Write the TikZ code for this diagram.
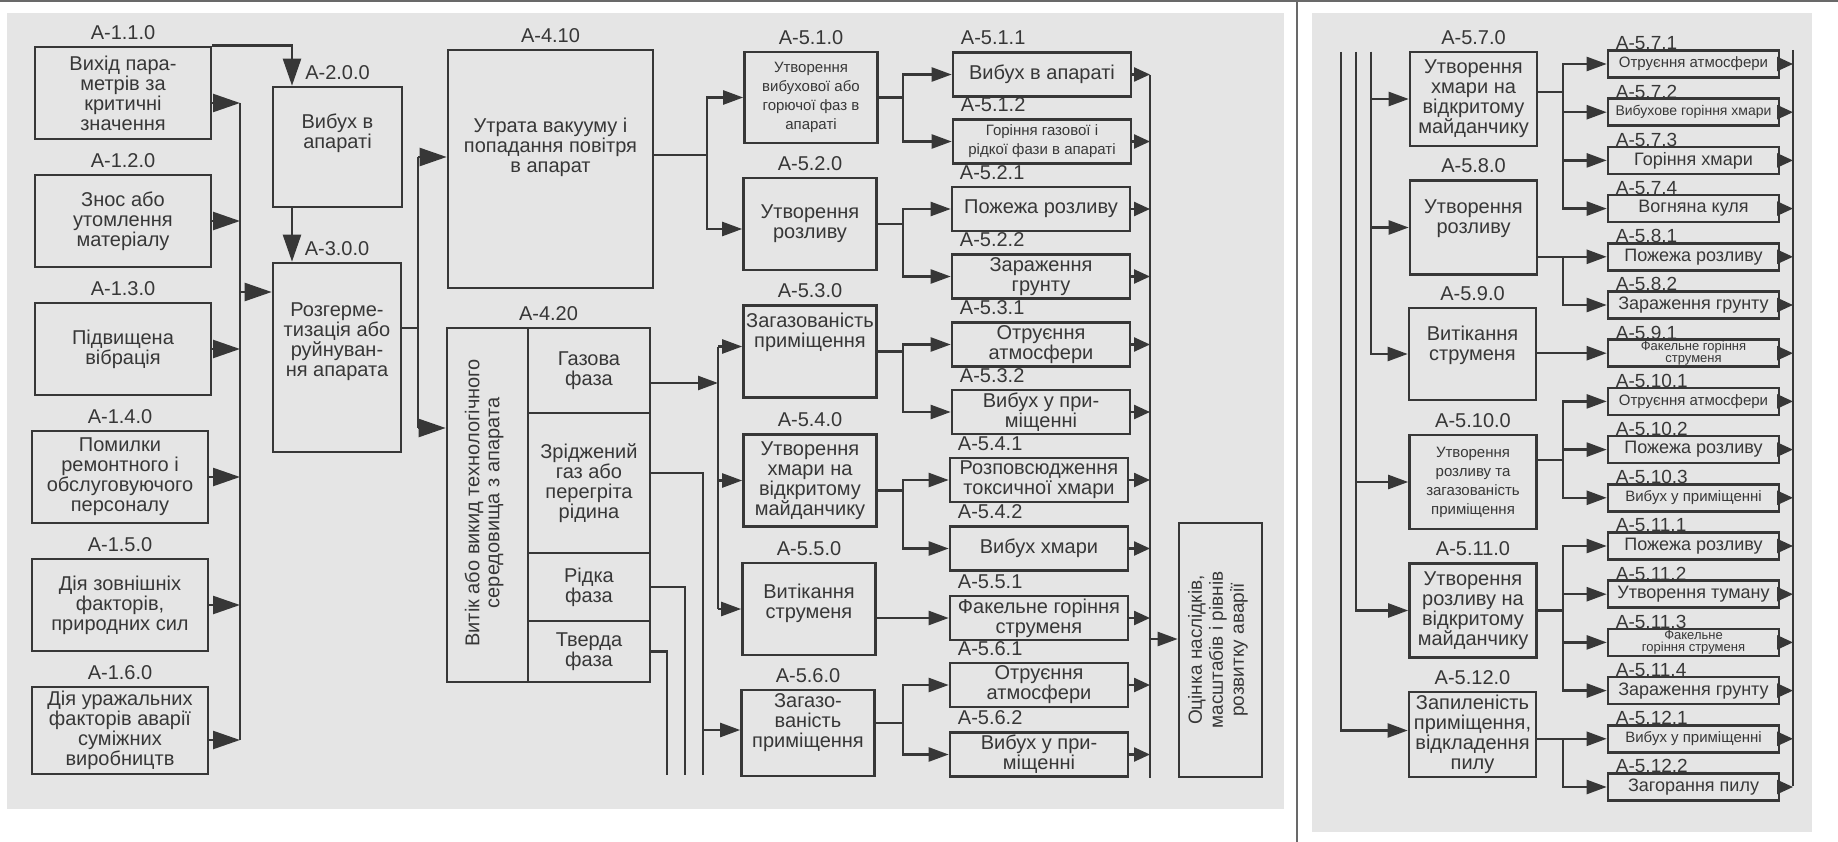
\documentclass[tikz,border=0pt]{standalone}
\usepackage{fontspec}
\setmainfont{Liberation Sans}
\usepackage{xcolor}
\usepackage{tikz}
\usetikzlibrary{arrows.meta, positioning, calc}
\definecolor{ink}{RGB}{55,55,55}
\definecolor{paper}{RGB}{229,229,229}
\definecolor{frameline}{RGB}{105,105,105}

\begin{document}
\begin{tikzpicture}[
    x=1pt, y=-1pt,
    box/.style={rectangle, draw=ink, line width=2.6pt, inner sep=0pt, align=center,
                text=ink, font=\fontsize{20}{20}\selectfont},
    cause/.style={box, minimum width=176pt, minimum height=92pt},
    stage/.style={box, minimum width=133pt, minimum height=92pt},
    effect/.style={box, minimum width=178pt, minimum height=44pt},
    rstage/.style={box, minimum width=127pt, minimum height=94pt},
    reffect/.style={box, minimum width=171pt, minimum height=27pt, font=\fontsize{18}{18}\selectfont},
    cell/.style={box, minimum width=122pt},
    txt/.style={align=center, text=ink, inner sep=0pt, font=\fontsize{20}{20}\selectfont},
    small/.style={font=\fontsize{15}{19}\selectfont},
    tiny/.style={font=\fontsize{13}{12}\selectfont},
    tag/.style={text=ink, inner sep=0pt, yshift=6pt, font=\fontsize{20}{20}\selectfont},
    ltag/.style={tag, anchor=south west, xshift=9pt},
    rtag/.style={text=ink, inner sep=0pt, anchor=south west, xshift=9pt, yshift=-1pt, font=\fontsize{19}{19}\selectfont},
    link/.style={draw=ink, line width=2.4pt},
    bigarrow/.style={link, -{Triangle[length=27pt, width=18pt]}},
    arrow/.style={link, -{Triangle[length=20pt, width=14pt]}},
    endtip/.style={link, -{Triangle[length=16pt, width=14pt]}}
]
\useasboundingbox (0,0) rectangle (1838,842);
\fill[white] (0,0) rectangle (1838,842);
\fill[paper] (7,13) rectangle (1284,809);
\fill[paper] (1312,13) rectangle (1812,832);
\draw[frameline, line width=1.5pt] (0,1) -- (1838,1);
\draw[frameline, line width=1.5pt] (1297,0) -- (1297,842);

\node[cause, label={[tag]above:А-1.1.0}] (c11) at (123,93) {Вихід пара-\\метрів за\\критичні\\значення};
\node[cause, label={[tag]above:А-1.2.0}] (c12) at (123,221) {Знос або\\утомлення\\матеріалу};
\node[cause, label={[tag]above:А-1.3.0}] (c13) at (123,349) {Підвищена\\вібрація};
\node[cause, label={[tag]above:А-1.4.0}] (c14) at (120,477) {Помилки\\ремонтного і\\обслуговуючого\\персоналу};
\node[cause, label={[tag]above:А-1.5.0}] (c15) at (120,605) {Дія зовнішніх\\факторів,\\природних сил};
\node[cause, minimum height=87pt, label={[tag]above:А-1.6.0}] (c16) at (120,730.5) {Дія уражальних\\факторів аварії\\суміжних\\виробництв};

\node[box, minimum width=129pt, minimum height=120pt, label={[tag]above:А-2.0.0}] (a20) at (337.5,147) {};
\node[txt] (a20t) at ([yshift=14pt]a20.center) {Вибух в\\апараті};
\node[box, minimum width=128pt, minimum height=189pt, label={[tag]above:А-3.0.0}] (a30) at (337,357.5) {};
\node[txt] (a30t) at ([yshift=16pt]a30.center) {Розгерме-\\тизація або\\руйнуван-\\ня апарата};

\node[box, minimum width=205pt, minimum height=238pt, label={[tag]above:А-4.10}] (a41) at (550.5,169) {};
\node[txt] (a41t) at ([yshift=22pt]a41.center) {Утрата вакууму і\\попадання повітря\\в апарат};
\node[box, minimum width=203pt, minimum height=354pt, label={[tag]above:А-4.20}] (a42) at (548.5,505) {};
\node[txt, rotate=90] (a42t) at (484,503) {Витік або викид технологічного\\середовища з апарата};
\node[cell, minimum height=85pt] (gas) at (589,370.5) {Газова\\фаза};
\node[cell, minimum height=140pt] (lgas) at (589,483) {Зріджений\\газ або\\перегріта\\рідина};
\node[cell, minimum height=68pt] (liq) at (589,587) {Рідка\\фаза};
\node[cell, minimum height=61pt] (sol) at (589,651.5) {Тверда\\фаза};

\node[stage, small, minimum height=91pt, label={[tag]above:А-5.1.0}] (st51) at (811,97.5) {Утворення\\вибухової або\\горючої фаз в\\апараті};
\node[stage, label={[tag]above:А-5.2.0}] (st52) at (810,224) {Утворення\\розливу};
\node[stage, label={[tag]above:А-5.3.0}] (st53) at (810,351.5) {};
\node[txt] (st53t) at ([yshift=19pt]st53.center) {Загазованість\\приміщення};
\node[stage, label={[tag]above:А-5.4.0}] (st54) at (810,480.5) {Утворення\\хмари на\\відкритому\\майданчику};
\node[stage, label={[tag]above:А-5.5.0}] (st55) at (809,609) {};
\node[txt] (st55t) at ([yshift=6pt]st55.center) {Витікання\\струменя};
\node[stage, minimum height=86pt, label={[tag]above:А-5.6.0}] (st56) at (808,733) {};
\node[txt] (st56t) at ([yshift=10pt]st56.center) {Загазо-\\ваність\\приміщення};

\node[effect, label={[ltag]north west:А-5.1.1}] (ef511) at (1042,74.5) {Вибух в апараті};
\node[effect, small, label={[ltag]north west:А-5.1.2}] (ef512) at (1042,141.5) {Горіння газової і\\рідкої фази в апараті};
\node[effect, label={[ltag]north west:А-5.2.1}] (ef521) at (1041,209) {Пожежа розливу};
\node[effect, label={[ltag]north west:А-5.2.2}] (ef522) at (1041,276.5) {Зараження\\грунту};
\node[effect, label={[ltag]north west:А-5.3.1}] (ef531) at (1041,344.5) {Отруєння\\атмосфери};
\node[effect, label={[ltag]north west:А-5.3.2}] (ef532) at (1041,412) {Вибух у при-\\міщенні};
\node[effect, label={[ltag]north west:А-5.4.1}] (ef541) at (1039,480) {Розповсюдження\\токсичної хмари};
\node[effect, label={[ltag]north west:А-5.4.2}] (ef542) at (1039,548.5) {Вибух хмари};
\node[effect, label={[ltag]north west:А-5.5.1}] (ef551) at (1039,618) {Факельне горіння\\струменя};
\node[effect, label={[ltag]north west:А-5.6.1}] (ef561) at (1039,685) {Отруєння\\атмосфери};
\node[effect, label={[ltag]north west:А-5.6.2}] (ef562) at (1039,754.5) {Вибух у при-\\міщенні};

\node[box, minimum width=83pt, minimum height=254pt] (fin) at (1220.5,650) {};
\node[txt, rotate=90, font=\fontsize{19}{21}\selectfont] (fint) at (1218,650) {Оцінка наслідків,\\масштабів і рівнів\\розвитку аварії};

\node[rstage, label={[tag]above:А-5.7.0}] (st57) at (1473.5,99) {Утворення\\хмари на\\відкритому\\майданчику};
\node[rstage, label={[tag]above:А-5.8.0}] (st58) at (1473.5,227.5) {};
\node[txt] (st58t) at ([yshift=9pt]st58.center) {Утворення\\розливу};
\node[rstage, minimum height=92pt, label={[tag]above:А-5.9.0}] (st59) at (1472.5,354) {};
\node[txt] (st59t) at ([yshift=9pt]st59.center) {Витікання\\струменя};
\node[rstage, small, label={[tag]above:А-5.10.0}] (st510) at (1473,482) {Утворення\\розливу та\\загазованість\\приміщення};
\node[rstage, label={[tag]above:А-5.11.0}] (st511) at (1473,610.5) {Утворення\\розливу на\\відкритому\\майданчику};
\node[rstage, minimum height=85pt, label={[tag]above:А-5.12.0}] (st512) at (1472.5,734.5) {Запиленість\\приміщення,\\відкладення\\пилу};

\node[reffect, small, label={[rtag]north west:А-5.7.1}] (ef571) at (1693.5,64) {Отруєння атмосфери};
\node[reffect, font=\fontsize{14}{14}\selectfont, label={[rtag]north west:А-5.7.2}] (ef572) at (1693.5,112.2) {Вибухове горіння хмари};
\node[reffect, label={[rtag]north west:А-5.7.3}] (ef573) at (1693.5,160.4) {Горіння хмари};
\node[reffect, label={[rtag]north west:А-5.7.4}] (ef574) at (1693.5,208.6) {Вогняна куля};
\node[reffect, label={[rtag]north west:А-5.8.1}] (ef581) at (1693.5,256.8) {Пожежа розливу};
\node[reffect, label={[rtag]north west:А-5.8.2}] (ef582) at (1693.5,305) {Зараження грунту};
\node[reffect, tiny, label={[rtag]north west:А-5.9.1}] (ef591) at (1693.5,353.2) {Факельне горіння\\струменя};
\node[reffect, small, label={[rtag]north west:А-5.10.1}] (ef5101) at (1693.5,401.4) {Отруєння атмосфери};
\node[reffect, label={[rtag]north west:А-5.10.2}] (ef5102) at (1693.5,449.6) {Пожежа розливу};
\node[reffect, small, label={[rtag]north west:А-5.10.3}] (ef5103) at (1693.5,497.8) {Вибух у приміщенні};
\node[reffect, label={[rtag]north west:А-5.11.1}] (ef5111) at (1693.5,546) {Пожежа розливу};
\node[reffect, label={[rtag]north west:А-5.11.2}] (ef5112) at (1693.5,594.2) {Утворення туману};
\node[reffect, tiny, label={[rtag]north west:А-5.11.3}] (ef5113) at (1693.5,642.4) {Факельне\\горіння струменя};
\node[reffect, label={[rtag]north west:А-5.11.4}] (ef5114) at (1693.5,690.6) {Зараження грунту};
\node[reffect, small, label={[rtag]north west:А-5.12.1}] (ef5121) at (1693.5,738.8) {Вибух у приміщенні};
\node[reffect, label={[rtag]north west:А-5.12.2}] (ef5122) at (1693.5,787) {Загорання пилу};

\coordinate (bus1a) at (240,103);
\coordinate (bus1b) at (240,740);
\draw[link] (bus1a) -- (bus1b);
\draw[bigarrow] ([yshift=-10pt]c11.east) -- (bus1a);
\draw[bigarrow] (c12.east) -- (c12.east -| bus1a);
\draw[bigarrow] (c13.east) -- (c13.east -| bus1a);
\draw[bigarrow] (c14.east) -- (c14.east -| bus1a);
\draw[bigarrow] (c15.east) -- (c15.east -| bus1a);
\draw[bigarrow] ([yshift=-9.5pt]c16.east) -- (bus1b);
\coordinate (in30) at ([yshift=65.5pt]a30.west);
\draw[bigarrow] (in30 -| bus1a) -- (in30);
\coordinate (in20) at ([xshift=-45.5pt]a20.north);
\draw[bigarrow] (c11.north east) -| (in20);
\draw[bigarrow] (in20 |- a20.south) -- (in20 |- a30.north);

\coordinate (bus2) at (418,0);
\coordinate (out30) at ([yshift=29.5pt]a30.east);
\coordinate (in41) at ([yshift=12pt]a41.west);
\coordinate (in42) at ([yshift=77pt]a42.west);
\draw[link] (out30) -- (out30 -| bus2);
\draw[link] (in41 -| bus2) -- (in42 -| bus2);
\draw[bigarrow] (in41 -| bus2) -- (in41);
\draw[bigarrow] (in42 -| bus2) -- (in42);

\coordinate (j41) at (707,0);
\coordinate (out41) at ([yshift=14pt]a41.east);
\coordinate (in52) at ([yshift=-5pt]st52.west);
\draw[arrow] (out41) -- (out41 -| j41) |- (st51.west);
\draw[arrow] (out41) -- (out41 -| j41) |- (in52);

\coordinate (bus3) at (718,0);
\coordinate (ogas) at ([yshift=-12.5pt]gas.east);
\coordinate (in53) at ([yshift=5pt]st53.west);
\draw[arrow] (ogas) -- (ogas -| bus3);
\draw[link] (in53 -| bus3) -- (st55.west -| bus3);
\draw[arrow] (in53 -| bus3) -- (in53);
\draw[arrow] (st54.west -| bus3) -- (st54.west);
\draw[arrow] (st55.west -| bus3) -- (st55.west);

\coordinate (olgas) at ([yshift=10pt]lgas.east);
\coordinate (lgend) at (703,775);
\coordinate (lqend) at (685,775);
\coordinate (solend) at (667,775);
\coordinate (in56) at ([yshift=3pt]st56.west);
\draw[link] (olgas) -| (lgend);
\draw[arrow] (in56 -| lgend) -- (in56);
\draw[link] (liq.east) -| (lqend);
\draw[link] (sol.east) -| (solend);

\coordinate (j5) at (903,0);
\coordinate (out54) at ([yshift=-10pt]st54.east);
\coordinate (out56) at ([yshift=10pt]st56.east);
\draw[arrow] (st51.east) -- (st51.east -| j5) |- (ef511.west);
\draw[arrow] (st51.east) -- (st51.east -| j5) |- (ef512.west);
\draw[arrow] (st52.east) -- (st52.east -| j5) |- (ef521.west);
\draw[arrow] (st52.east) -- (st52.east -| j5) |- (ef522.west);
\draw[arrow] (st53.east) -- (st53.east -| j5) |- (ef531.west);
\draw[arrow] (st53.east) -- (st53.east -| j5) |- (ef532.west);
\draw[arrow] (out54) -- (out54 -| j5) |- (ef541.west);
\draw[arrow] (out54) -- (out54 -| j5) |- (ef542.west);
\draw[arrow] (st55.east |- ef551) -- (ef551.west);
\draw[arrow] (out56) -- (out56 -| j5) |- (ef561.west);
\draw[arrow] (out56) -- (out56 -| j5) |- (ef562.west);

\coordinate (bus4a) at (1150,75);
\coordinate (bus4b) at (1150,778);
\draw[link] (bus4a) -- (bus4b);
\draw[endtip] (ef511.east) -- (ef511.east -| bus4a);
\draw[endtip] (ef512.east) -- (ef512.east -| bus4a);
\draw[endtip] (ef521.east) -- (ef521.east -| bus4a);
\draw[endtip] (ef522.east) -- (ef522.east -| bus4a);
\draw[endtip] (ef531.east) -- (ef531.east -| bus4a);
\draw[endtip] (ef532.east) -- (ef532.east -| bus4a);
\draw[endtip] (ef541.east) -- (ef541.east -| bus4a);
\draw[endtip] (ef542.east) -- (ef542.east -| bus4a);
\draw[endtip] (ef551.east) -- (ef551.east -| bus4a);
\draw[endtip] (ef561.east) -- (ef561.east -| bus4a);
\draw[endtip] (ef562.east) -- (ef562.east -| bus4a);
\coordinate (infin) at ([yshift=11pt]fin.west);
\draw[arrow] (infin -| bus4a) -- (infin);

\coordinate (tsol) at (1341,52);
\coordinate (tliq) at (1356,52);
\coordinate (tlgas) at (1371,52);
\coordinate (in512) at ([yshift=4pt]st512.west);
\draw[arrow] (tlgas) |- (st57.west);
\draw[arrow] (tlgas) |- (st58.west);
\draw[arrow] (tlgas) |- (st59.west);
\draw[arrow] (tliq) |- (st510.west);
\draw[arrow] (tliq) |- (st511.west);
\draw[arrow] (tsol) |- (in512);

\coordinate (jr) at (1563,0);
\coordinate (out57) at ([yshift=7pt]st57.east);
\coordinate (out510) at ([yshift=22pt]st510.east);
\draw[arrow] (out57) -- (out57 -| jr) |- (ef571.west);
\draw[arrow] (out57) -- (out57 -| jr) |- (ef572.west);
\draw[arrow] (out57) -- (out57 -| jr) |- (ef573.west);
\draw[arrow] (out57) -- (out57 -| jr) |- (ef574.west);
\draw[arrow] (st58.east |- ef581) -- (ef581.west);
\draw[arrow] (st58.east |- ef581) -- (jr |- ef581) |- (ef582.west);
\draw[arrow] (st59.east |- ef591) -- (ef591.west);
\draw[arrow] (out510) -- (out510 -| jr) |- (ef5101.west);
\draw[arrow] (out510) -- (out510 -| jr) |- (ef5102.west);
\draw[arrow] (out510) -- (out510 -| jr) |- (ef5103.west);
\draw[arrow] (st511.east) -- (st511.east -| jr) |- (ef5111.west);
\draw[arrow] (st511.east) -- (st511.east -| jr) |- (ef5112.west);
\draw[arrow] (st511.east) -- (st511.east -| jr) |- (ef5113.west);
\draw[arrow] (st511.east) -- (st511.east -| jr) |- (ef5114.west);
\draw[arrow] (st512.east |- ef5121) -- (ef5121.west);
\draw[arrow] (st512.east |- ef5121) -- (jr |- ef5121) |- (ef5122.west);

\coordinate (bus5a) at (1793,50);
\coordinate (bus5b) at (1793,786);
\draw[link] (bus5a) -- (bus5b);
\draw[endtip] (ef571.east) -- (ef571.east -| bus5a);
\draw[endtip] (ef572.east) -- (ef572.east -| bus5a);
\draw[endtip] (ef573.east) -- (ef573.east -| bus5a);
\draw[endtip] (ef574.east) -- (ef574.east -| bus5a);
\draw[endtip] (ef581.east) -- (ef581.east -| bus5a);
\draw[endtip] (ef582.east) -- (ef582.east -| bus5a);
\draw[endtip] (ef591.east) -- (ef591.east -| bus5a);
\draw[endtip] (ef5101.east) -- (ef5101.east -| bus5a);
\draw[endtip] (ef5102.east) -- (ef5102.east -| bus5a);
\draw[endtip] (ef5103.east) -- (ef5103.east -| bus5a);
\draw[endtip] (ef5111.east) -- (ef5111.east -| bus5a);
\draw[endtip] (ef5112.east) -- (ef5112.east -| bus5a);
\draw[endtip] (ef5113.east) -- (ef5113.east -| bus5a);
\draw[endtip] (ef5114.east) -- (ef5114.east -| bus5a);
\draw[endtip] (ef5121.east) -- (ef5121.east -| bus5a);
\draw[endtip] (ef5122.east) -- (ef5122.east -| bus5a);
\end{tikzpicture}
\end{document}
